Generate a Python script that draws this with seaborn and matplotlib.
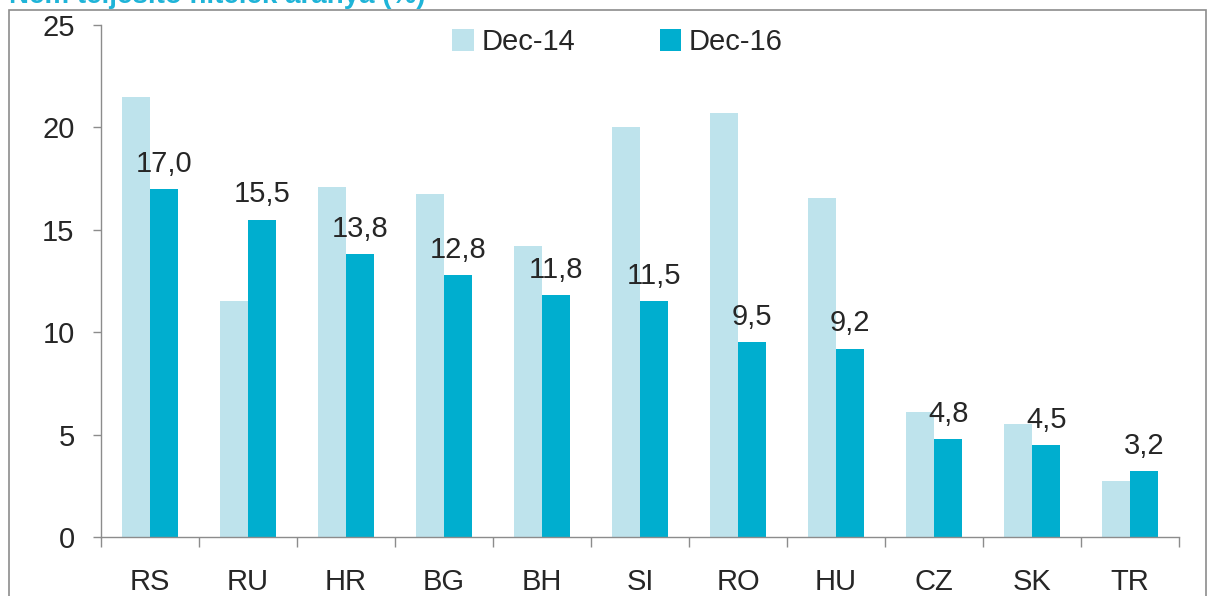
import pandas as pd
import matplotlib
matplotlib.use("Agg")
import matplotlib.pyplot as plt
import matplotlib.patches as patches
import seaborn as sns

# data
countries = ["RS", "RU", "HR", "BG", "BH", "SI", "RO", "HU", "CZ", "SK", "TR"]
dec14 = [21.5, 11.5, 17.1, 16.75, 14.2, 20.0, 20.7, 16.55, 6.1, 5.5, 2.75]
dec16 = [17.0, 15.5, 13.8, 12.8, 11.8, 11.5, 9.5, 9.2, 4.8, 4.5, 3.2]
series = ["Dec-14", "Dec-16"]
title = "Nem teljesítő hitelek aránya (%)"

light = "#BEE3EC"
dark = "#00AECF"
grey = "#8C8C8C"

df = pd.DataFrame({
    "country": countries * 2,
    "value": dec14 + dec16,
    "series": [series[0]] * len(countries) + [series[1]] * len(countries),
})

sns.set_style("white")
plt.rcParams["font.family"] = ["Liberation Sans", "DejaVu Sans"]

fig = plt.figure(figsize=(12.15, 5.96), dpi=100)
ax = fig.add_axes([0.0831, 0.099, 0.8873, 0.859])

sns.barplot(data=df, x="country", y="value", hue="series", order=countries,
            hue_order=series, palette=[light, dark], width=0.58, gap=0,
            saturation=1, linewidth=0, ax=ax, legend=True)

# value labels on the Dec-16 bars
ax.bar_label(ax.containers[1], labels=[f"{v:.1f}".replace(".", ",") for v in dec16],
             padding=8, fontsize=21)

ax.set_ylim(0, 25)
ax.set_xlim(-0.5, len(countries) - 0.5)
ax.set_yticks([0, 5, 10, 15, 20, 25])
ax.tick_params(axis="y", labelsize=21, length=6, width=1, color=grey, pad=13, left=True)
ax.tick_params(axis="x", which="major", labelsize=21, length=0, pad=22)
ax.set_xticks([i - 0.5 for i in range(len(countries) + 1)], minor=True)
ax.tick_params(axis="x", which="minor", length=7, width=1, color=grey, bottom=True)
ax.set_xlabel("")
ax.set_ylabel("")

for s in ["top", "right"]:
    ax.spines[s].set_visible(False)
for s in ["left", "bottom"]:
    ax.spines[s].set_color(grey)
    ax.spines[s].set_linewidth(1)

leg = ax.legend(loc="upper center", bbox_to_anchor=(0.479, 1.045), ncol=2, frameon=False,
                fontsize=21, handlelength=0.75, handleheight=0.75, columnspacing=2.9,
                handletextpad=0.25)

# outer frame and clipped title
fig.patches.append(patches.Rectangle((0.007, -0.05), 0.986, 1.033, transform=fig.transFigure,
                                     fill=False, edgecolor=grey, linewidth=1.2))
fig.text(0.007, 0.985, title, color="#1FB4D8", fontsize=20, fontweight="bold",
         va="bottom", ha="left")

fig.savefig("out.png", dpi=100)
